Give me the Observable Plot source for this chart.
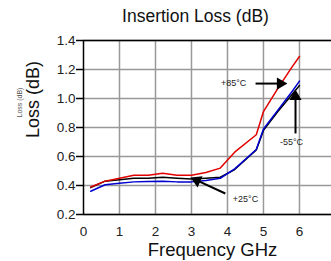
<!DOCTYPE html>
<html><head><meta charset="utf-8">
<script src="https://cdn.jsdelivr.net/npm/d3@7"></script>
<script src="https://cdn.jsdelivr.net/npm/@observablehq/plot@0.6"></script>
<style>body{margin:0;background:#fff;font-family:"Liberation Sans",Arial,sans-serif}</style>
</head><body><div id="chart"></div>
<script>
const freq = [0.2,0.6,1.0,1.4,1.8,2.2,2.6,3.0,3.4,3.8,4.2,4.8,5.0,5.4,5.8,6.0];
const loss85 = [0.39,0.43,0.45,0.47,0.47,0.485,0.47,0.47,0.49,0.52,0.63,0.75,0.91,1.07,1.22,1.29];
const loss25 = [0.385,0.43,0.44,0.45,0.45,0.457,0.45,0.445,0.45,0.457,0.51,0.645,0.78,0.91,1.03,1.09];
const lossM55 = [0.36,0.405,0.415,0.425,0.428,0.43,0.425,0.425,0.435,0.45,0.515,0.648,0.79,0.92,1.05,1.12];
const xTicks = [0,1,2,3,4,5,6];
const yTicks = [0.2,0.4,0.6,0.8,1.0,1.2,1.4];
const labels = [
  {text:"+85°C", x:4.17, y:1.103, x1:4.78, y1:1.103, x2:5.47, y2:1.103, rot:90},
  {text:"-55°C", x:5.78, y:0.697, x1:5.89, y1:0.759, x2:5.89, y2:1.014, rot:0},
  {text:"+25°C", x:4.5, y:0.303, x1:3.94, y1:0.345, x2:3.15, y2:0.435, rot:-66}
];
const series = [
  {name:"+25°C", values:loss25, color:"#000000"},
  {name:"-55°C", values:lossM55, color:"#0000d0"},
  {name:"+85°C", values:loss85, color:"#e00000"}
];
const rows = series.flatMap(s => s.values.map((v,i)=>({f:freq[i], v, name:s.name})));
const chart = Plot.plot({
  width:331, height:261,
  marginLeft:83, marginRight:0, marginTop:40, marginBottom:47,
  style:{fontFamily:"Liberation Sans, Arial, sans-serif", background:"#fff", overflow:"visible"},
  x:{domain:[0,6.89]},
  y:{domain:[0.2,1.4]},
  color:{domain:series.map(s=>s.name), range:series.map(s=>s.color)},
  marks:[
    Plot.gridX(xTicks.slice(1), {stroke:"#999", strokeOpacity:1, strokeWidth:1.5}),
    Plot.gridY(yTicks, {stroke:"#999", strokeOpacity:1, strokeWidth:1.5}),
    Plot.ruleX([0], {stroke:"#000", strokeWidth:1.5}),
    Plot.ruleY([0.2,1.4], {stroke:"#000", strokeWidth:1.5}),
    Plot.axisY(yTicks, {tickFormat:d3.format(".1f"), tickSize:7, tickPadding:1, fontSize:13.5, label:null, fill:"#222", strokeWidth:1.5}),
    Plot.axisX(xTicks, {tickSize:0, tickPadding:12, fontSize:13.5, label:null, fill:"#222"}),
    Plot.line(rows, {x:"f", y:"v", z:"name", stroke:"name", strokeWidth:1.5}),
    Plot.link(labels, {x1:"x1", y1:"y1", x2:"x2", y2:"y2", stroke:"#000", strokeWidth:2}),
    Plot.dot(labels, {x:"x2", y:"y2", symbol:"triangle", r:4.5, fill:"#000", rotate:"rot"}),
    Plot.text(labels, {x:"x", y:"y", text:"text", fontSize:9, fill:"#222"}),
    Plot.text(["Insertion Loss (dB)"], {frameAnchor:"top", lineAnchor:"middle", dx:-12, dy:-24, fontSize:17.5, fill:"#111"}),
    Plot.text(["Frequency GHz"], {frameAnchor:"bottom", lineAnchor:"middle", dx:5, dy:36, fontSize:18.5, fill:"#111"}),
    Plot.text(["Loss (dB)"], {frameAnchor:"left", dx:-50, dy:10.5, rotate:-90, fontSize:18, fill:"#111"}),
    Plot.text(["Loss (dB)"], {frameAnchor:"left", dx:-64, dy:-10, rotate:-90, fontSize:7, fill:"#555"})
  ]
});
document.getElementById("chart").append(chart);
</script></body></html>
